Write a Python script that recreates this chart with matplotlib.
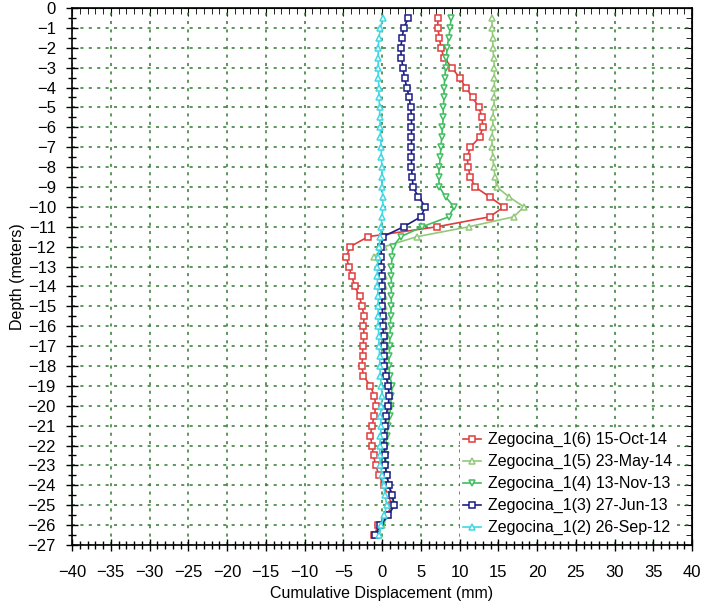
import numpy as np
import matplotlib
matplotlib.use("Agg")
import matplotlib.pyplot as plt
from matplotlib.ticker import MultipleLocator

plt.rcParams['font.family'] = ['Liberation Sans', 'DejaVu Sans']

# depth of each reading (m)
depth = [-0.5, -1.0, -1.5, -2.0, -2.5, -3.0, -3.5, -4.0, -4.5, -5.0,
         -5.5, -6.0, -6.5, -7.0, -7.5, -8.0, -8.5, -9.0, -9.5, -10.0,
         -10.5, -11.0, -11.5, -12.0, -12.5, -13.0, -13.5, -14.0, -14.5, -15.0,
         -15.5, -16.0, -16.5, -17.0, -17.5, -18.0, -18.5, -19.0, -19.5, -20.0,
         -20.5, -21.0, -21.5, -22.0, -22.5, -23.0, -23.5, -24.0, -24.5, -25.0,
         -25.5, -26.0, -26.5]

# cumulative displacement (mm)
z6_oct14 = [7.2, 7.2, 7.4, 7.6, 8.0, 9.0, 10.0, 10.8, 11.7, 12.5,
            12.9, 13.0, 12.6, 11.4, 11.0, 11.1, 11.4, 12.0, 13.9, 15.7,
            13.9, 7.1, -1.8, -4.1, -4.6, -4.3, -3.9, -3.5, -2.9, -2.6,
            -2.3, -2.4, -2.3, -2.5, -2.5, -2.6, -2.4, -1.5, -1.0, -0.8,
            -1.0, -1.3, -1.5, -1.3, -1.1, -0.8, -0.4, 0.2, 0.8, 1.3,
            0.6, -0.5, -1.0]
z5_may14 = [14.2, 14.2, 14.3, 14.3, 14.4, 14.5, 14.5, 14.5, 14.5, 14.4,
            14.3, 14.3, 14.2, 14.2, 14.3, 14.4, 14.6, 14.8, 16.4, 18.3,
            17.0, 11.2, 4.5, 0.3, -1.0, -0.2, 0.2, 0.3, 0.3, 0.3,
            0.4, 0.4, 0.4, 0.5, 0.5, 0.5, 0.6, 0.9, 1.0, 0.9,
            0.7, 0.5, 0.4, 0.3, 0.4, 0.4, 0.6, 0.9, 1.3, 1.6,
            0.8, 0.0, -0.5]
z4_nov13 = [8.9, 8.8, 8.6, 8.4, 8.3, 8.2, 8.1, 8.0, 8.0, 7.9,
            7.9, 7.8, 7.7, 7.6, 7.5, 7.4, 7.3, 7.4, 8.2, 9.3,
            8.6, 5.2, 2.4, 1.4, 1.3, 1.2, 1.2, 1.2, 1.2, 1.2,
            1.1, 1.1, 1.0, 1.0, 0.9, 0.9, 1.0, 1.3, 1.2, 1.1,
            1.0, 0.8, 0.6, 0.5, 0.5, 0.5, 0.6, 0.9, 1.2, 1.5,
            0.8, 0.0, -0.6]
z3_jun13 = [3.4, 2.8, 2.6, 2.4, 2.5, 2.7, 2.9, 3.2, 3.5, 3.7,
            3.8, 3.8, 3.8, 3.8, 3.8, 3.8, 3.9, 4.0, 4.7, 5.6,
            5.0, 2.8, 0.1, -0.1, -0.1, -0.1, 0.0, 0.0, 0.0, 0.0,
            0.1, 0.1, 0.2, 0.2, 0.3, 0.3, 0.5, 0.8, 0.9, 0.8,
            0.5, 0.4, 0.3, 0.2, 0.4, 0.4, 0.6, 0.9, 1.3, 1.6,
            0.8, -0.2, -0.9]
z2_sep12 = [0.1, -0.2, -0.4, -0.5, -0.5, -0.5, -0.5, -0.4, -0.4, -0.3,
            -0.3, -0.2, -0.2, -0.1, -0.1, 0.0, 0.0, 0.0, 0.1, 0.1,
            0.0, -0.1, -0.2, -0.4, -0.5, -0.6, -0.6, -0.6, -0.5, -0.5,
            -0.5, -0.5, -0.4, -0.4, -0.3, -0.3, -0.2, -0.1, 0.0, -0.1,
            -0.2, -0.1, -0.2, -0.3, -0.3, -0.2, 0.0, 0.2, 0.4, 0.6,
            0.3, -0.1, -0.4]

labels = ['Zegocina_1(6) 15-Oct-14', 'Zegocina_1(5) 23-May-14',
          'Zegocina_1(4) 13-Nov-13', 'Zegocina_1(3) 27-Jun-13',
          'Zegocina_1(2) 26-Sep-12']
colors = ['#e03c3c', '#93c97a', '#3fbf5f', '#1c1c86', '#3fd8e4']
markers = ['s', '^', 'v', 's', '^']
series = [z6_oct14, z5_may14, z4_nov13, z3_jun13, z2_sep12]

fig = plt.figure(figsize=(7.02, 6.04), dpi=100)
ax = fig.add_axes([0.1026, 0.0977, 0.8832, 0.8891])

for vals, lab, c, m in zip(series, labels, colors, markers):
    ax.plot(vals, depth, color=c, lw=1.2, marker=m, ms=4.8,
            mfc='white', mec=c, mew=1.1, label=lab)

ax.set_xlim(-40, 40)
ax.set_ylim(-27, 0)
ax.xaxis.set_major_locator(MultipleLocator(5))
ax.xaxis.set_minor_locator(MultipleLocator(1))
ax.yaxis.set_major_locator(MultipleLocator(1))
ax.yaxis.set_minor_locator(MultipleLocator(0.5))
ax.tick_params(which='both', direction='inout', labelsize=12, width=1)
ax.tick_params(which='major', length=9)
ax.tick_params(which='minor', length=6)
ax.tick_params(axis='x', which='major', pad=10)
ax.tick_params(axis='y', which='major', pad=7)

# ticks pointing inwards on top and right
top = ax.secondary_xaxis('top')
top.xaxis.set_major_locator(MultipleLocator(5))
top.xaxis.set_minor_locator(MultipleLocator(1))
top.tick_params(which='both', direction='in', labeltop=False)
top.tick_params(which='major', length=6)
top.tick_params(which='minor', length=4)
right = ax.secondary_yaxis('right')
right.yaxis.set_major_locator(MultipleLocator(1))
right.yaxis.set_minor_locator(MultipleLocator(0.5))
right.tick_params(which='both', direction='in', labelright=False)
right.tick_params(which='major', length=6)
right.tick_params(which='minor', length=4)

for s in ax.spines.values():
    s.set_linewidth(1.2)

ax.grid(True, which='major', color='#2f7a2f', ls=(0, (2, 3.5)), lw=1.1)
ax.set_axisbelow(True)

ax.set_xlabel('Cumulative Displacement (mm)', fontsize=11.5, labelpad=4)
ax.set_ylabel('Depth (meters)', fontsize=11.5, labelpad=2)

leg = ax.legend(loc='lower right', bbox_to_anchor=(0.973, 0.012),
                fontsize=11.5, frameon=True,
                handlelength=1.15, handletextpad=0.4, labelspacing=0.43,
                borderaxespad=0.0, borderpad=0.2, markerscale=0.85)
leg.get_frame().set_edgecolor('none')
leg.get_frame().set_facecolor('white')
leg.get_frame().set_alpha(1)

fig.savefig('out.png', dpi=100)
